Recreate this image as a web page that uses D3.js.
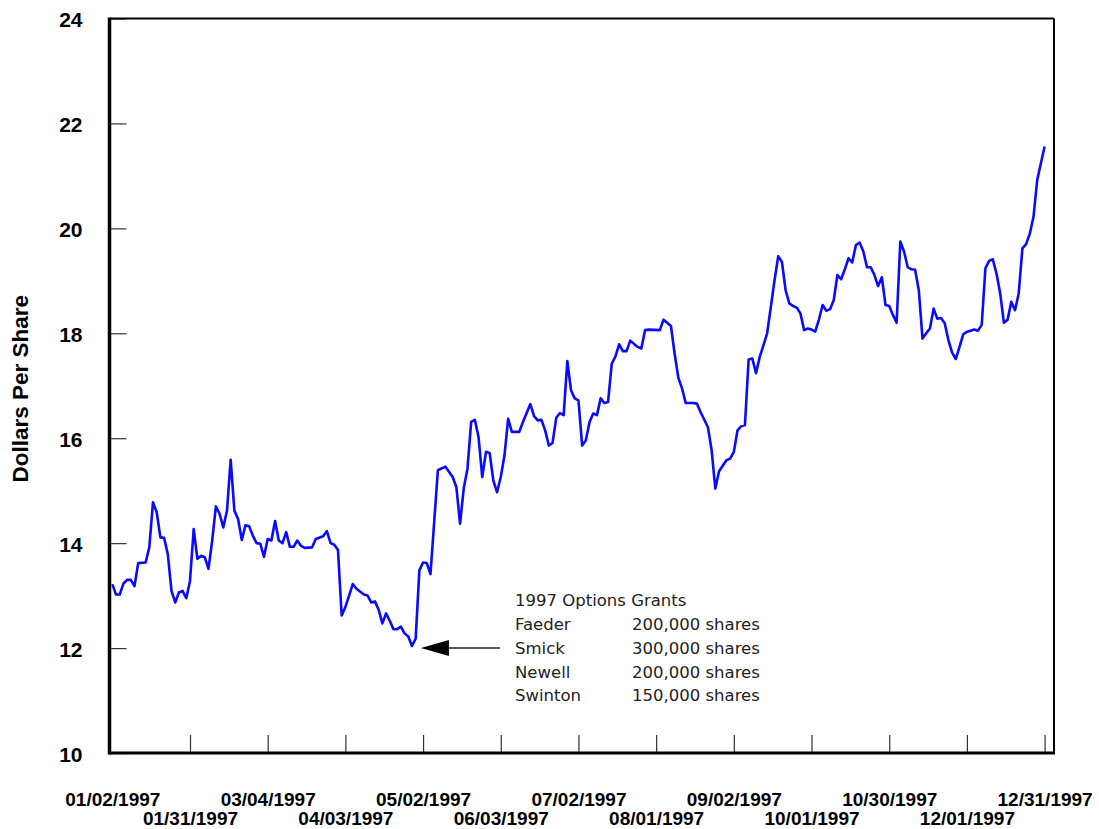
<!DOCTYPE html>
<html>
<head>
<meta charset="utf-8">
<script src="https://cdn.jsdelivr.net/npm/d3@7"></script>
<style>
  body { margin: 0; background: #fff; }
  svg { display: block; }
</style>
</head>
<body>
<div id="chart"></div>
<script>
// trading day index (0 = 01/02/1997) and closing price
const closes = [
  [0,13.22],[1,13.02],[2,13.02],[3,13.23],[4,13.30],[5,13.30],[6,13.18],[7,13.62],[9,13.63],
  [10,13.92],[11,14.78],[12,14.59],[13,14.11],[14,14.10],[15,13.79],[16,13.09],[17,12.87],
  [18,13.06],[19,13.09],[20,12.95],[21,13.28],[22,14.27],[23,13.70],[24,13.76],[25,13.73],
  [26,13.51],[27,14.05],[28,14.70],[29,14.56],[30,14.30],[31,14.62],[32,15.59],[33,14.62],
  [34,14.46],[35,14.06],[36,14.34],[37,14.32],[38,14.14],[39,14.00],[40,13.99],[41,13.74],
  [42,14.08],[43,14.05],[44,14.42],[45,14.05],[46,14.00],[47,14.21],[48,13.93],[49,13.93],
  [50,14.05],[51,13.95],[52,13.91],[54,13.92],[55,14.08],[57,14.13],[58,14.23],[59,14.00],
  [60,13.97],[61,13.87],[62,12.62],[63,12.78],[64,13.00],[65,13.22],[66,13.13],[68,13.02],
  [69,13.00],[70,12.87],[71,12.89],[72,12.73],[73,12.47],[74,12.66],[75,12.52],[76,12.36],
  [77,12.36],[78,12.41],[79,12.28],[80,12.22],[81,12.04],[82,12.18],[83,13.48],[84,13.63],
  [85,13.62],[86,13.41],[88,15.39],[90,15.46],[92,15.26],[93,15.07],[94,14.37],[95,15.05],
  [96,15.42],[97,16.31],[98,16.35],[99,16.02],[100,15.26],[101,15.74],[102,15.72],[103,15.19],
  [104,14.97],[105,15.26],[106,15.67],[107,16.37],[108,16.12],[109,16.12],[110,16.12],
  [111,16.31],[112,16.48],[113,16.65],[114,16.42],[115,16.34],[116,16.35],[117,16.15],
  [118,15.86],[119,15.91],[120,16.39],[121,16.48],[122,16.44],[123,17.47],[124,16.91],
  [125,16.76],[126,16.72],[127,15.86],[128,15.96],[129,16.31],[130,16.47],[131,16.44],
  [132,16.76],[133,16.67],[134,16.69],[135,17.42],[136,17.56],[137,17.79],[138,17.66],
  [139,17.66],[140,17.86],[142,17.74],[143,17.71],[144,18.06],[145,18.07],[148,18.06],
  [149,18.26],[151,18.14],[152,17.61],[153,17.15],[154,16.95],[155,16.67],[157,16.67],
  [158,16.66],[159,16.50],[161,16.21],[162,15.77],[163,15.04],[164,15.37],[166,15.58],
  [167,15.61],[168,15.74],[169,16.15],[170,16.23],[171,16.25],[172,17.50],[173,17.52],
  [174,17.24],[175,17.55],[176,17.77],[177,18.00],[178,18.50],[179,19.01],[180,19.47],
  [181,19.36],[182,18.82],[183,18.57],[184,18.52],[185,18.49],[186,18.38],[187,18.06],
  [188,18.09],[189,18.07],[190,18.03],[191,18.26],[192,18.54],[193,18.43],[194,18.46],
  [195,18.63],[196,19.11],[197,19.03],[198,19.22],[199,19.43],[200,19.35],[201,19.68],
  [202,19.73],[203,19.56],[204,19.26],[205,19.26],[206,19.11],[207,18.90],[208,19.07],
  [209,18.54],[210,18.52],[211,18.35],[212,18.20],[213,19.75],[214,19.56],[215,19.26],
  [216,19.22],[217,19.21],[218,18.82],[219,17.90],[220,18.00],[221,18.09],[222,18.47],
  [223,18.28],[224,18.29],[225,18.19],[226,17.87],[227,17.63],[228,17.51],[229,17.74],
  [230,17.98],[231,18.03],[232,18.05],[233,18.07],[234,18.05],[235,18.16],[236,19.24],
  [237,19.38],[238,19.41],[239,19.14],[240,18.76],[241,18.20],[242,18.26],[243,18.60],
  [244,18.44],[245,18.76],[246,19.62],[247,19.70],[248,19.90],[249,20.22],[250,20.92],
  [251,21.24],[252,21.56]
];

// x axis ticks: trading day index and label
const tickDays = [0, 21, 42, 63, 84, 105, 126, 147, 168, 189, 210, 231, 252];
const tickLabels = [
  "01/02/1997", "01/31/1997", "03/04/1997", "04/03/1997", "05/02/1997", "06/03/1997",
  "07/02/1997", "08/01/1997", "09/02/1997", "10/01/1997", "10/30/1997", "12/01/1997", "12/31/1997"
];
const yTicks = [10, 12, 14, 16, 18, 20, 22, 24];

// annotation table
const grantTitle = "1997 Options Grants";
const grantNames = ["Faeder", "Smick", "Newell", "Swinton"];
const grantShares = ["200,000 shares", "300,000 shares", "200,000 shares", "150,000 shares"];
const grantDay = 81; // low point the arrow points at

const config = {
  width: 1099,
  height: 829,
  frame: { left: 109.5, right: 1054, top: 18.5, bottom: 753 },
  xRange: [112.3, 1044.6],
};
const { width, height, frame } = config;

const svg = d3.select("#chart").append("svg")
  .attr("width", width)
  .attr("height", height)
  .style("background", "#fff");

const xScale = d3.scaleLinear().domain([0, 252]).range(config.xRange);
const yScale = d3.scaleLinear().domain([10, 24]).range([frame.bottom, frame.top]);

// Y axis, ticks pointing inwards
const yAxis = svg.append("g")
  .attr("transform", `translate(${frame.left},0)`)
  .call(d3.axisLeft(yScale).tickValues(yTicks).tickSizeInner(-17).tickSizeOuter(0).tickPadding(27));
yAxis.select(".domain").remove();
yAxis.selectAll(".tick line").attr("stroke", "#333").attr("stroke-width", 1.2);
yAxis.selectAll(".tick text")
  .attr("font-family", "'Liberation Sans', Arial, sans-serif")
  .attr("font-weight", "bold")
  .attr("font-size", "21px")
  .attr("fill", "#000")
  .attr("dy", "0.4em");

// X axis, labels staggered on two rows
const xAxis = svg.append("g")
  .attr("transform", `translate(0,${frame.bottom})`)
  .call(d3.axisBottom(xScale).tickValues(tickDays).tickSizeInner(-18).tickSizeOuter(0)
    .tickFormat((d, i) => tickLabels[i]));
xAxis.select(".domain").remove();
xAxis.selectAll(".tick line")
  .attr("stroke", "#333")
  .attr("stroke-width", 1.2)
  .attr("display", (d) => (d === 0 ? "none" : null)); // first tick sits under the axis
xAxis.selectAll(".tick text")
  .attr("font-family", "'Liberation Sans', Arial, sans-serif")
  .attr("font-weight", "bold")
  .attr("font-size", "19px")
  .attr("fill", "#000")
  .attr("dy", 0)
  .attr("y", (d, i) => (i % 2 === 0 ? 53 : 72));

// Frame
svg.append("line").attr("x1", frame.left).attr("x2", frame.right)
  .attr("y1", frame.top).attr("y2", frame.top)
  .attr("stroke", "#000").attr("stroke-width", 2);
svg.append("line").attr("x1", frame.right).attr("x2", frame.right)
  .attr("y1", frame.top).attr("y2", frame.bottom)
  .attr("stroke", "#000").attr("stroke-width", 2);
svg.append("line").attr("x1", frame.left).attr("x2", frame.left)
  .attr("y1", frame.top - 1).attr("y2", frame.bottom + 1.5)
  .attr("stroke", "#000").attr("stroke-width", 3.5);
svg.append("line").attr("x1", frame.left).attr("x2", frame.right + 1)
  .attr("y1", frame.bottom).attr("y2", frame.bottom)
  .attr("stroke", "#000").attr("stroke-width", 3);

// Price line
const line = d3.line()
  .x((d) => xScale(d[0]))
  .y((d) => yScale(d[1]));

svg.append("path")
  .datum(closes)
  .attr("fill", "none")
  .attr("stroke", "#0a0aff")
  .attr("stroke-width", 2.6)
  .attr("stroke-linejoin", "round")
  .attr("d", line);

// Y axis title
svg.append("text")
  .attr("transform", `translate(20,${(frame.top + frame.bottom) / 2 + 3}) rotate(-90)`)
  .attr("text-anchor", "middle")
  .attr("dy", "0.36em")
  .attr("font-family", "'Liberation Sans', Arial, sans-serif")
  .attr("font-weight", "bold")
  .attr("font-size", "22.5px")
  .text("Dollars Per Share");

// Options grants annotation
const low = closes.find((d) => d[0] === grantDay);
const tipX = xScale(low[0]) + 9;
const tipY = yScale(low[1]) + 2;

svg.append("line")
  .attr("x1", tipX + 26).attr("x2", tipX + 79)
  .attr("y1", tipY).attr("y2", tipY)
  .attr("stroke", "#222").attr("stroke-width", 1.5);
svg.append("path")
  .attr("d", `M${tipX},${tipY} L${tipX + 28},${tipY - 8} L${tipX + 28},${tipY + 8} Z`)
  .attr("fill", "#000");

const note = svg.append("g")
  .attr("font-family", "'DejaVu Sans', sans-serif")
  .attr("font-size", "16.5px")
  .attr("fill", "#222");

note.append("text").attr("x", 515).attr("y", 606).text(grantTitle);
note.selectAll(".grant-name")
  .data(grantNames)
  .join("text")
  .attr("class", "grant-name")
  .attr("x", 515)
  .attr("y", (d, i) => 630 + i * 23.8)
  .text((d) => d);
note.selectAll(".grant-shares")
  .data(grantShares)
  .join("text")
  .attr("class", "grant-shares")
  .attr("x", 632)
  .attr("y", (d, i) => 630 + i * 23.8)
  .text((d) => d);
</script>
</body>
</html>
